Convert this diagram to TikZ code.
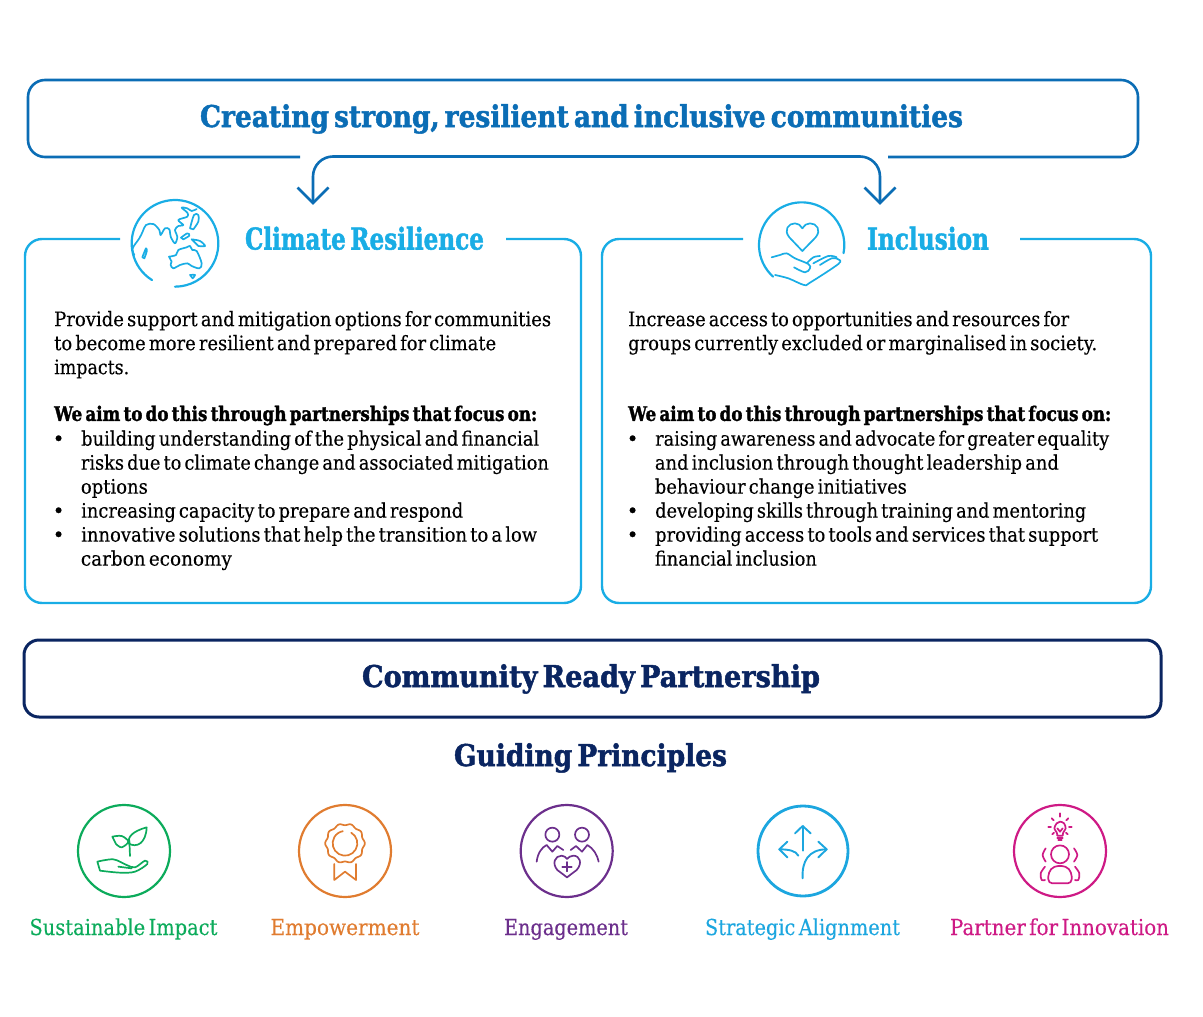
\documentclass[tikz,border=0pt]{standalone}
\usepackage{fontspec}
\usepackage{graphicx}
\usetikzlibrary{arrows.meta}
\setmainfont[WordSpace=0.55,UprightFeatures={FakeBold=0.25},BoldFeatures={FakeBold=1.7}]{DejaVu Serif}
\definecolor{cTitle}{HTML}{0B6DB5}
\definecolor{cCyan}{HTML}{19ADE5}
\definecolor{cNavy}{HTML}{0A2561}
\definecolor{cGreen}{HTML}{0CAB5B}
\definecolor{cOrange}{HTML}{E07C30}
\definecolor{cPurple}{HTML}{6C2F8C}
\definecolor{cBlue}{HTML}{1CA6DF}
\definecolor{cPink}{HTML}{CE1A85}
\newcommand\fitw[2]{\resizebox{#1pt}{\height}{#2}}
\newcommand\bul{\makebox[27pt][l]{\hspace{-1.5pt}•}}
\tikzset{
  x=1pt,y=-1pt,
  bodytext/.style={anchor=north west,inner sep=0pt,align=left,text=black,font=\fontsize{20}{24}\selectfont},
  heading/.style={inner sep=0pt,anchor=base,font=\bfseries\fontsize{30}{32}\selectfont},
  lbltext/.style={inner sep=0pt,anchor=base,font=\fontsize{22}{24}\selectfont},
  icon/.style={line width=1.7pt,line cap=round,line join=round},
  ring/.style={line width=2.2pt},
  curvy/.style={smooth,tension=0.55},
}
\begin{document}
\begin{tikzpicture}
\useasboundingbox (0,0) rectangle (1203,1017);
% top box
\coordinate (topL) at (300,157);
\coordinate (topR) at (888,157);
\draw[cTitle,line width=2.6pt,rounded corners=17pt] (topL) -- (28,157) -- (28,80) -- (1138,80) -- (1138,157) -- (topR);
\node[heading,text=cTitle] (title) at (581.5,127) {\fitw{763}{Creating strong, resilient and inclusive communities}};
% arrow
\coordinate (arrL) at (313,203);
\coordinate (arrR) at (880,203);
\draw[cTitle,line width=2.6pt,rounded corners=20pt] (arrL) -- (313,156.5) -- (880,156.5) -- (arrR);
\draw[cTitle,line width=2.6pt] ([shift={(-15.5,-15.5)}]arrL) -- (arrL) -- ([shift={(15.5,-15.5)}]arrL);
\draw[cTitle,line width=2.6pt] ([shift={(-15.5,-15.5)}]arrR) -- (arrR) -- ([shift={(15.5,-15.5)}]arrR);
% left box
\coordinate (lA) at (120,239);
\coordinate (lB) at (506,239);
\draw[cCyan,line width=2.4pt,rounded corners=17pt] (lA) -- (25,239) -- (25,603) -- (581,603) -- (581,239) -- (lB);
\node[heading,text=cCyan] (climate) at (364.5,249.5) {\fitw{239}{Climate Resilience}};
% right box
\coordinate (rA) at (743,239);
\coordinate (rB) at (1020,239);
\draw[cCyan,line width=2.4pt,rounded corners=17pt] (rA) -- (602,239) -- (602,603) -- (1151,603) -- (1151,239) -- (rB);
\node[heading,text=cCyan] (inclusion) at (928,249.5) {\fitw{122}{Inclusion}};
% body text left
\node[bodytext] (leftintro) at (54,310.8) {\fitw{497}{Provide support and mitigation options for communities}\\
\fitw{442}{to become more resilient and prepared for climate}\\
\fitw{75}{impacts.}};
\node[bodytext] (leftlist) at (54,405.5) {\fitw{483}{\bfseries We aim to do this through partnerships that focus on:}\\[0.8pt]
\bul\fitw{458}{building understanding of the physical and financial}\\
\hspace*{26.7pt}\fitw{468}{risks due to climate change and associated mitigation}\\
\hspace*{26.7pt}\fitw{67}{options}\\
\bul\fitw{382}{increasing capacity to prepare and respond}\\
\bul\fitw{456}{innovative solutions that help the transition to a low}\\
\hspace*{26.7pt}\fitw{151}{carbon economy}};
% body text right
\node[bodytext] (rightintro) at (628,310.8) {\fitw{441}{Increase access to opportunities and resources for}\\
\fitw{469}{groups currently excluded or marginalised in society.}};
\node[bodytext] (rightlist) at (628,405.5) {\fitw{483}{\bfseries We aim to do this through partnerships that focus on:}\\[0.8pt]
\bul\fitw{454}{raising awareness and advocate for greater equality}\\
\hspace*{26.7pt}\fitw{404}{and inclusion through thought leadership and}\\
\hspace*{26.7pt}\fitw{252}{behaviour change initiatives}\\
\bul\fitw{431}{developing skills through training and mentoring}\\
\bul\fitw{443}{providing access to tools and services that support}\\
\hspace*{26.7pt}\fitw{162}{financial inclusion}};
% partnership
\node[draw=cNavy,line width=3pt,rounded corners=15pt,minimum width=1137pt,minimum height=77pt,inner sep=0pt] (crpbox) at (592.5,678.5) {};
\node[heading,text=cNavy] (crp) at (591,687) {\fitw{458}{Community Ready Partnership}};
\node[heading,text=cNavy] (gp) at (590.5,766) {\fitw{273}{Guiding Principles}};
% globe
\begin{scope}[shift={(100,140)},scale=0.33333,cCyan,icon]
\draw[line width=2.2pt] (225,310)++(122:130) arc[start angle=122,end angle=450,radius=130];
\draw plot[curvy] coordinates {(103,345)(98,325)(118,295)(128,275)(138,255)(160,252)(178,270)(182,285)(195,265)(208,268)(212,290)(225,310)(232,290)(225,270)(235,258)(250,255)(235,240)(262,230)(262,218)(245,203)(262,205)(275,213)(290,207)};
\draw plot[curvy] coordinates {(127,352)(138,325)(140,335)(133,355)} -- cycle;
\draw plot[curvy] coordinates {(270,265)(282,225)(295,225)(295,245)(280,268)} -- cycle;
\draw plot[curvy] coordinates {(243,293)(262,280)(268,287)(250,298)} -- cycle;
\draw plot[curvy] coordinates {(275,298)(300,303)(315,318)(295,318)} -- cycle;
\draw plot[curvy] coordinates {(207,350)(228,345)(235,330)(260,322)(270,318)(277,330)(290,333)(305,370)(298,385)(275,378)(262,370)(240,375)(220,385)(212,375)(215,365)} -- cycle;
\draw plot[curvy] coordinates {(270,405)(285,405)(278,415)} -- cycle;
\end{scope}
% hand heart
\begin{scope}[shift={(730,140)},scale=0.33333,cCyan,icon]
\draw[line width=2.2pt] (215,315)++(132:128) arc[start angle=132,end angle=371,radius=128];
\draw (217,333) -- (178,292) .. controls (160,270) and (175,250) .. (195,250) .. controls (205,250) and (212,256) .. (217,265) .. controls (222,256) and (230,250) .. (240,250) .. controls (260,250) and (275,270) .. (257,292) -- cycle;
\draw plot[curvy] coordinates {(125,352)(150,345)(170,340)(195,355)(235,372)(240,385)(225,397)(192,382)};
\draw plot[curvy] coordinates {(135,405)(175,415)(222,435)(240,428)(325,372)(325,358)(305,355)(270,375)};
\draw plot[curvy] coordinates {(230,370)(250,352)(270,348)};
\draw plot[curvy] coordinates {(250,370)(295,348)(320,352)};
\end{scope}
% ring icons
\node[draw=cGreen,ring,circle,minimum size=92pt,inner sep=0pt] (ringGreen) at (124,851) {};
\node[draw=cOrange,ring,circle,minimum size=92pt,inner sep=0pt] (ringOrange) at (345,851) {};
\node[draw=cPurple,ring,circle,minimum size=92pt,inner sep=0pt] (ringPurple) at (566.7,851) {};
\node[draw=cBlue,line width=2.8pt,circle,minimum size=90pt,inner sep=0pt] (ringBlue) at (803,851) {};
\node[draw=cPink,ring,circle,minimum size=92pt,inner sep=0pt] (ringPink) at (1060,851) {};
% plant
\begin{scope}[shift={(60,790)},scale=0.33333,cGreen,icon]
\draw plot[curvy] coordinates {(157,140)(185,138)(205,155)(185,172)(168,162)} -- cycle;
\draw (260,112) .. controls (215,125) and (205,140) .. (205,160) .. controls (230,175) and (258,160) .. cycle;
\draw (208,150) -- (210,198);
\draw plot[curvy] coordinates {(112,215)(160,208)(200,225)(225,232)(255,212)(262,222)(225,245)(180,248)(120,242)} -- cycle;
\draw (175,230) -- (215,235);
\end{scope}
% medal
\begin{scope}[shift={(60,790)},scale=0.33333,cOrange,icon]
\draw plot[domain=0:360,samples=121,smooth] ({855+(57+2.5*cos(10*\x))*cos(\x)},{160+(57+2.5*cos(10*\x))*sin(\x)}) -- cycle;
\draw (855,160)++(-60:37) arc[start angle=-60,end angle=260,radius=37];
\draw (823,222) -- (823,270) -- (855,245) -- (888,270) -- (888,222);
\end{scope}
% people heart
\begin{scope}[shift={(500,790)},scale=0.33333,cPurple,icon]
\draw (157,134) circle[radius=21];
\draw (246,134) circle[radius=21];
\draw (110,215) .. controls (113,190) and (125,172) .. (140,165) -- (157,185) -- (172,168) -- (190,180);
\draw (212,180) -- (228,168) -- (246,185) -- (262,165) .. controls (280,175) and (292,195) .. (296,215);
\draw (201,262) -- (172,240) .. controls (155,220) and (165,197) .. (185,197) .. controls (192,197) and (198,202) .. (201,207) .. controls (205,202) and (212,197) .. (220,197) .. controls (240,197) and (248,220) .. (230,240) -- cycle;
\draw (187,230) -- (215,230);
\draw (201,216) -- (201,244);
\end{scope}
% arrows
\begin{scope}[shift={(500,790)},scale=0.33333,cBlue,icon,line width=1.9pt]
\draw (908,182) -- (908,108);
\draw (885,130) -- (908,108) -- (932,130);
\draw (838,178) .. controls (865,178) and (888,182) .. (895,197);
\draw (862,155) -- (838,178) -- (862,202);
\draw (908,265) .. controls (905,215) and (925,178) .. (980,178);
\draw (955,155) -- (980,178) -- (955,202);
\end{scope}
% partner
\begin{scope}[shift={(1000,795)},scale=0.33333,cPink,icon]
\draw plot[curvy] coordinates {(172,122)(170,112)(163,100)(170,85)(180,80)(192,85)(197,100)(190,112)(188,122)} -- cycle;
\draw (172,100) -- (180,110) -- (188,100);
\draw (172,128) -- (188,128);
\draw (175,135) -- (185,135);
\foreach \a/\b/\c/\d in {180/55/180/65,155/70/161/76,205/70/199/76,145/95/153/95,207/95/215/95,157/118/162/113,203/118/198/113}
  \draw (\a,\b) -- (\c,\d);
\draw (180,178) circle[radius=27];
\draw[rounded corners=4pt] (145,265) -- (145,232) -- (162,213) -- (198,213) -- (215,232) -- (215,265) -- cycle;
\draw plot[curvy] coordinates {(137,160)(128,180)(137,200)};
\draw plot[curvy] coordinates {(222,160)(232,180)(222,200)};
\draw plot[curvy] coordinates {(135,215)(122,235)(125,255)(135,255)};
\draw plot[curvy] coordinates {(225,215)(238,235)(235,255)(225,255)};
\end{scope}
% labels
\node[lbltext,text=cGreen] (l1) at (123.5,935) {\fitw{188}{Sustainable Impact}};
\node[lbltext,text=cOrange] (l2) at (345,935) {\fitw{149}{Empowerment}};
\node[lbltext,text=cPurple] (l3) at (566,935) {\fitw{124}{Engagement}};
\node[lbltext,text=cBlue] (l4) at (802.5,935) {\fitw{195}{Strategic Alignment}};
\node[lbltext,text=cPink] (l5) at (1059.5,935) {\fitw{219}{Partner for Innovation}};
\end{tikzpicture}
\end{document}
